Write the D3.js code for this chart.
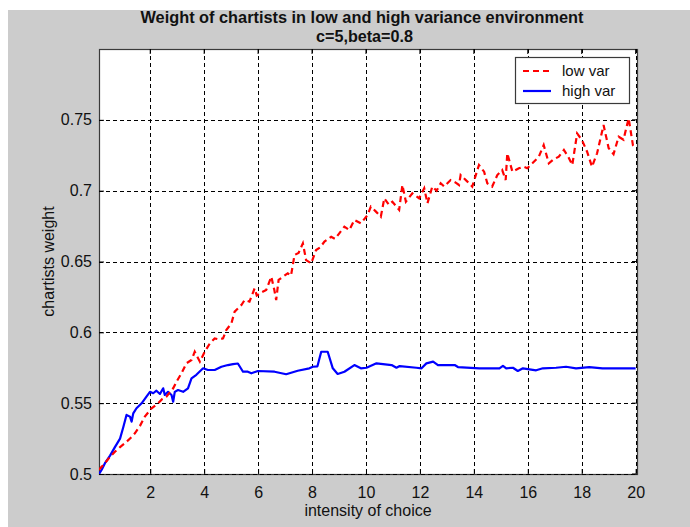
<!DOCTYPE html>
<html>
<head>
<meta charset="utf-8">
<script src="https://cdn.jsdelivr.net/npm/d3@7"></script>
<style>
  html, body { margin: 0; padding: 0; background: #ffffff; }
  svg { display: block; }
  text { font-family: "Liberation Sans", Arial, sans-serif; fill: #111; }
</style>
</head>
<body>
<svg id="chart" width="690" height="527"></svg>
<script>
// Chart text
const titleLine1 = "Weight of chartists in low and high variance environment";
const titleLine2 = "c=5,beta=0.8";
const xLabel = "intensity of choice";
const yLabel = "chartists weight";
const seriesNames = ["low var", "high var"];

// Tick values and their labels
const xTicks = [2, 4, 6, 8, 10, 12, 14, 16, 18, 20];
const xTickLabels = ["2", "4", "6", "8", "10", "12", "14", "16", "18", "20"];
const yTicks = [0.5, 0.55, 0.6, 0.65, 0.7, 0.75];
const yTickLabels = ["0.5", "0.55", "0.6", "0.65", "0.7", "0.75"];

// Low variance environment (red dashed)
const lowVarX = [0.10, 0.32, 0.50, 0.69, 0.88, 1.06, 1.25, 1.43, 1.62, 1.80, 2.05, 2.29, 2.45, 2.60, 2.85, 3.00,
  3.16, 3.34, 3.53, 3.65, 3.84, 4.02, 4.21, 4.39, 4.55, 4.70, 4.82, 5.01, 5.13, 5.38, 5.50, 5.68, 5.87, 5.95,
  6.10, 6.30, 6.49, 6.60, 6.67, 6.76, 7.10, 7.22, 7.35, 7.50, 7.66, 7.78, 7.97, 8.15, 8.30, 8.46, 8.71, 8.85,
  9.01, 9.20, 9.38, 9.57, 9.81, 10.06, 10.18, 10.37, 10.55, 10.68, 10.85, 10.98, 11.23, 11.35, 11.48, 11.72,
  11.97, 12.16, 12.28, 12.46, 12.62, 12.77, 12.90, 13.14, 13.30, 13.45, 13.51, 13.76, 13.94, 14.19, 14.38,
  14.50, 14.68, 14.87, 15.05, 15.18, 15.24, 15.43, 15.67, 15.85, 15.98, 16.17, 16.41, 16.59, 16.78, 16.95,
  17.15, 17.34, 17.50, 17.65, 17.83, 18.01, 18.20, 18.38, 18.57, 18.81, 19.00, 19.18, 19.37, 19.55, 19.74,
  19.90, 20.00];
const lowVarY = [0.503, 0.5076, 0.512, 0.5157, 0.519, 0.5217, 0.525, 0.5287, 0.534, 0.5405, 0.5464, 0.5499,
  0.553, 0.5546, 0.5605, 0.566, 0.5711, 0.5781, 0.5805, 0.5863, 0.5793, 0.5863, 0.5922, 0.5957, 0.595, 0.5957,
  0.6016, 0.6064, 0.6146, 0.6193, 0.6228, 0.6217, 0.631, 0.626, 0.628, 0.6299, 0.6393, 0.630, 0.6228, 0.637,
  0.6417, 0.640, 0.6546, 0.656, 0.6628, 0.651, 0.6487, 0.6581, 0.660, 0.664, 0.6675, 0.666, 0.6699, 0.6746,
  0.6722, 0.6793, 0.6769, 0.6828, 0.6887, 0.6852, 0.6816, 0.6946, 0.690, 0.6922, 0.6864, 0.7040, 0.6922,
  0.6981, 0.6946, 0.7017, 0.6911, 0.7029, 0.700, 0.7052, 0.7029, 0.7075, 0.706, 0.704, 0.711, 0.7064, 0.7029,
  0.7181, 0.7134, 0.7052, 0.7029, 0.711, 0.7146, 0.7075, 0.7264, 0.7134, 0.7158, 0.7169, 0.7158, 0.7193,
  0.724, 0.7322, 0.7193, 0.722, 0.724, 0.7287, 0.724, 0.7181, 0.7404, 0.7357, 0.7275, 0.7169, 0.7264, 0.7463,
  0.730, 0.7258, 0.7381, 0.736, 0.7511, 0.732, 0.730];

// High variance environment (blue solid)
const highVarX = [0.10, 0.20, 0.32, 0.51, 0.69, 0.88, 1.00, 1.12, 1.25, 1.31, 1.37, 1.49, 1.68, 1.86, 1.99,
  2.11, 2.23, 2.36, 2.48, 2.54, 2.66, 2.79, 2.85, 2.91, 3.03, 3.22, 3.40, 3.53, 3.71, 3.96, 4.14, 4.39, 4.64,
  4.88, 5.07, 5.25, 5.44, 5.62, 5.75, 5.99, 6.61, 7.04, 7.47, 7.90, 8.03, 8.20, 8.34, 8.58, 8.77, 8.95, 9.20,
  9.57, 9.81, 10.02, 10.39, 10.95, 11.13, 11.25, 11.87, 12.06, 12.24, 12.49, 12.67, 13.29, 13.41, 14.21,
  14.95, 15.08, 15.20, 15.45, 15.63, 15.82, 16.31, 16.56, 17.05, 17.42, 17.79, 18.28, 18.77, 19.82, 20.00];
const highVarY = [0.500, 0.503, 0.5076, 0.513, 0.519, 0.525, 0.533, 0.5417, 0.5405, 0.537, 0.5428, 0.5464,
  0.5499, 0.5546, 0.558, 0.557, 0.5588, 0.5565, 0.5605, 0.5558, 0.558, 0.5558, 0.551, 0.558, 0.5593, 0.558,
  0.5605, 0.5675, 0.570, 0.5746, 0.5734, 0.5734, 0.5757, 0.5769, 0.5776, 0.578, 0.5722, 0.5722, 0.5711,
  0.5727, 0.5722, 0.5704, 0.5729, 0.5746, 0.5757, 0.576, 0.5863, 0.5863, 0.5746, 0.5706, 0.5722, 0.5769,
  0.5746, 0.575, 0.5781, 0.5769, 0.575, 0.5762, 0.575, 0.5746, 0.5781, 0.5793, 0.5769, 0.5769, 0.5755,
  0.5746, 0.5746, 0.5764, 0.5746, 0.575, 0.5727, 0.5746, 0.5732, 0.5746, 0.575, 0.5757, 0.5746, 0.5755,
  0.5746, 0.5746, 0.5746];

const svg = d3.select("#chart");
const W = 690, H = 527;
const plot = { left: 99, top: 49, right: 637, bottom: 474 };

// Figure background
svg.append("rect").attr("x", 8).attr("y", 10).attr("width", W - 8).attr("height", H - 10)
  .attr("fill", "#cccccc");

const x = d3.scaleLinear().domain([0.1, 20.05]).range([plot.left, plot.right]);
const y = d3.scaleLinear().domain([0.5, 0.8]).range([plot.bottom, plot.top]);

// Axes area
svg.append("rect")
  .attr("x", plot.left).attr("y", plot.top)
  .attr("width", plot.right - plot.left).attr("height", plot.bottom - plot.top)
  .attr("fill", "#ffffff");

svg.append("defs").append("clipPath").attr("id", "plotClip")
  .append("rect")
  .attr("x", plot.left).attr("y", plot.top)
  .attr("width", plot.right - plot.left).attr("height", plot.bottom - plot.top);

// Frame
svg.append("rect")
  .attr("x", plot.left + 0.5).attr("y", plot.top + 0.5)
  .attr("width", plot.right - plot.left).attr("height", plot.bottom - plot.top)
  .attr("fill", "none").attr("stroke", "#3a3a3a").attr("stroke-width", 1.2);

// Dotted grid
const grid = svg.append("g").attr("stroke", "#000").attr("stroke-width", 1)
  .attr("stroke-dasharray", "4,3").attr("shape-rendering", "crispEdges");
grid.selectAll("line.vx").data(xTicks).join("line")
  .attr("x1", d => Math.round(x(d)) + 0.5).attr("x2", d => Math.round(x(d)) + 0.5)
  .attr("y1", plot.top).attr("y2", plot.bottom);
grid.selectAll("line.hy").data(yTicks).join("line")
  .attr("y1", d => Math.round(y(d)) + 0.5).attr("y2", d => Math.round(y(d)) + 0.5)
  .attr("x1", plot.left).attr("x2", plot.right);

// Axes with inward ticks and labels
const xAxis = d3.axisBottom(x).tickValues(xTicks).tickSize(-5).tickPadding(10)
  .tickFormat((d, i) => xTickLabels[i]);
const yAxis = d3.axisLeft(y).tickValues(yTicks).tickSize(-5).tickPadding(7)
  .tickFormat((d, i) => yTickLabels[i]);

const gx = svg.append("g").attr("transform", `translate(0,${plot.bottom})`).call(xAxis);
const gy = svg.append("g").attr("transform", `translate(${plot.left},0)`).call(yAxis);
[gx, gy].forEach(g => {
  g.select(".domain").remove();
  g.selectAll(".tick line").attr("stroke", "#000");
  g.selectAll(".tick text").attr("font-size", 16).attr("fill", "#111")
    .attr("font-family", "'Liberation Sans', Arial, sans-serif");
});
gx.selectAll(".tick text").attr("dy", "0.9em");

// Matching ticks on the top and right edges
svg.append("g").selectAll("line").data(xTicks).join("line")
  .attr("x1", d => x(d)).attr("x2", d => x(d))
  .attr("y1", plot.top).attr("y2", plot.top + 5).attr("stroke", "#000");
svg.append("g").selectAll("line").data(yTicks).join("line")
  .attr("y1", d => y(d)).attr("y2", d => y(d))
  .attr("x1", plot.right).attr("x2", plot.right - 5).attr("stroke", "#000");

// Data lines
const line = d3.line().x(d => x(d[0])).y(d => y(d[1]));
const lowData = lowVarX.map((v, i) => [v, lowVarY[i]]);
const highData = highVarX.map((v, i) => [v, highVarY[i]]);

const lines = svg.append("g").attr("clip-path", "url(#plotClip)");
lines.append("path").datum(highData)
  .attr("d", line).attr("fill", "none")
  .attr("stroke", "#0000ff").attr("stroke-width", 2.2).attr("stroke-linejoin", "round");
lines.append("path").datum(lowData)
  .attr("d", line).attr("fill", "none")
  .attr("stroke", "#ff0000").attr("stroke-width", 2.2)
  .attr("stroke-dasharray", "6,4");

// Titles
svg.append("text").attr("x", 362).attr("y", 23).attr("text-anchor", "middle")
  .attr("font-size", 16).attr("font-weight", "bold")
  .attr("textLength", 443).attr("lengthAdjust", "spacingAndGlyphs")
  .text(titleLine1);
svg.append("text").attr("x", 364.5).attr("y", 42).attr("text-anchor", "middle")
  .attr("font-size", 16).attr("font-weight", "bold")
  .attr("textLength", 97).attr("lengthAdjust", "spacingAndGlyphs")
  .text(titleLine2);

// Axis labels
svg.append("text").attr("x", (plot.left + plot.right) / 2).attr("y", 516)
  .attr("text-anchor", "middle").attr("font-size", 16).text(xLabel);
svg.append("text")
  .attr("transform", `translate(54,${(plot.top + plot.bottom) / 2}) rotate(-90)`)
  .attr("text-anchor", "middle").attr("font-size", 16).text(yLabel);

// Legend
const legend = svg.append("g");
legend.append("rect").attr("x", 515.5).attr("y", 57.5).attr("width", 114).attr("height", 46)
  .attr("fill", "#ffffff").attr("stroke", "#3a3a3a").attr("stroke-width", 1.2);
const legendItems = [
  { name: seriesNames[0], color: "#ff0000", dash: "6,4", yy: 71 },
  { name: seriesNames[1], color: "#0000ff", dash: null, yy: 91 }
];
legendItems.forEach(it => {
  legend.append("line").attr("x1", 523).attr("x2", 551).attr("y1", it.yy).attr("y2", it.yy)
    .attr("stroke", it.color).attr("stroke-width", 2.2)
    .attr("stroke-dasharray", it.dash);
  legend.append("text").attr("x", 562).attr("y", it.yy).attr("dy", "0.35em")
    .attr("font-size", 15).text(it.name);
});
</script>
</body>
</html>
